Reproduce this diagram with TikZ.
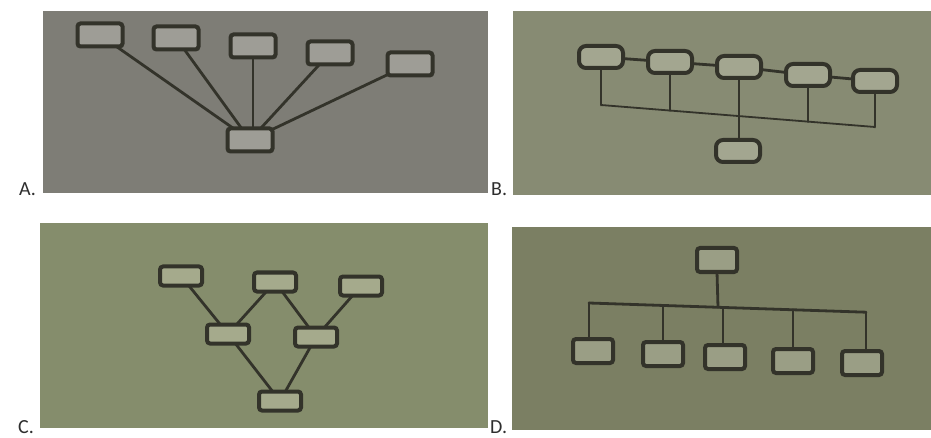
\documentclass[tikz,border=0pt]{standalone}
\usepackage{fontspec}
\setmainfont{Carlito}
\definecolor{bgA}{HTML}{7E7D76}
\definecolor{bgB}{HTML}{878B73}
\definecolor{bgC}{HTML}{858D6C}
\definecolor{bgD}{HTML}{7B7F63}
\definecolor{ink}{HTML}{33332A}
\definecolor{fillA}{HTML}{9E9D96}
\definecolor{fillB}{HTML}{A3A690}
\definecolor{fillC}{HTML}{A5AA8C}
\definecolor{fillD}{HTML}{9A9E85}
\definecolor{labc}{HTML}{2E2E2E}
\tikzset{
  box/.style={draw=ink, line width=4pt, rounded corners=3pt, inner sep=0pt, outer sep=0pt},
  boxA/.style={box, fill=fillA, minimum width=45pt, minimum height=23pt},
  boxB/.style={box, fill=fillB, minimum width=44pt, minimum height=22pt, rounded corners=7pt},
  boxC/.style={box, fill=fillC, minimum width=42pt, minimum height=19pt},
  boxD/.style={box, fill=fillD, minimum width=40pt, minimum height=24pt},
  wire/.style={draw=ink, line width=2.8pt, line cap=round},
  lab/.style={font=\fontsize{20}{20}\selectfont, text=labc, anchor=base west, inner sep=0pt}
}
\begin{document}
\begin{tikzpicture}[x=1pt,y=-1pt]
\useasboundingbox[fill=white] (0,0) rectangle (931,438);
% panels
\fill[bgA] (43,11) rectangle (488,193);
\fill[bgB] (513,11) rectangle (931,195);
\fill[bgC] (40,223) rectangle (488,428);
\fill[bgD] (512,227) rectangle (931,430);
% labels
\node[lab] (labA) at (19,196) {A.};
\node[lab] (labB) at (491,196) {B.};
\node[lab] (labC) at (18,433) {C.};
\node[lab] (labD) at (490,433) {D.};

% ---------- Panel A ----------
\node[boxA] (a1) at (100,35) {};
\node[boxA] (a2) at (176,38) {};
\node[boxA] (a3) at (253,46) {};
\node[boxA] (a4) at (330,53) {};
\node[boxA] (a5) at (410,64) {};
\node[boxA] (ac) at (250,140) {};
\foreach \n in {a1,a2,a4,a5} \draw[wire] (\n) -- (ac);
\draw[wire] (a3.south) -- (a3.south |- ac.north);

% ---------- Panel B ----------
\node[boxB] (b1) at (601,57) {};
\node[boxB] (b2) at (670,62) {};
\node[boxB] (b3) at (739,67) {};
\node[boxB] (b4) at (808,75) {};
\node[boxB] (b5) at (875,81) {};
\node[boxB] (bc) at (738,151) {};
\draw[wire] (b1) -- (b2);
\draw[wire] (b2) -- (b3);
\draw[wire] (b3) -- (b4);
\draw[wire] (b4) -- (b5);
\coordinate (pb1) at (601,105);
\coordinate (pb2) at (670,110.5);
\coordinate (pb4) at (808,121.6);
\coordinate (pb5) at (875,127);
\draw[wire] (b1.south) -- (pb1);
\draw[wire] (b2.south) -- (pb2);
\draw[wire] (b4.south) -- (pb4);
\draw[wire] (b5.south) -- (pb5);
\draw[draw=ink, line width=1.8pt] (pb1) -- (pb5);
\draw[wire] (b3.south) -- (b3.south |- bc.north);

% ---------- Panel C ----------
\node[boxC] (c1) at (181,276) {};
\node[boxC] (c2) at (275,282) {};
\node[boxC] (c3) at (361,286) {};
\node[boxC] (m1) at (228,334) {};
\node[boxC] (m2) at (316,337) {};
\node[boxC] (cb) at (280,401) {};
\draw[wire] (c1) -- (m1);
\draw[wire] (c2) -- (m1);
\draw[wire] (c2) -- (m2);
\draw[wire] (c3) -- (m2);
\draw[wire] (m1) -- (cb);
\draw[wire] (m2) -- (cb);

% ---------- Panel D ----------
\node[boxD] (dt) at (717,260) {};
\node[boxD] (d1) at (593,351) {};
\node[boxD] (d2) at (663,354) {};
\node[boxD] (d3) at (725,357) {};
\node[boxD] (d4) at (793,361) {};
\node[boxD] (d5) at (862,363) {};
\coordinate (q1) at (589,303);
\coordinate (q2) at (663,305.5);
\coordinate (qt) at (718,307.3);
\coordinate (q3) at (723,307.5);
\coordinate (q4) at (793,309.8);
\coordinate (q5) at (866,312.2);
\draw[wire] (q1) -- (q5);
\draw[wire] (dt.south) -- (qt);
\draw[wire] (q1) -- (q1 |- d1.north);
\draw[wire] (q2) -- (q2 |- d2.north);
\draw[wire] (q3) -- (q3 |- d3.north);
\draw[wire] (q4) -- (q4 |- d4.north);
\draw[wire] (q5) -- (q5 |- d5.north);
\end{tikzpicture}
\end{document}
